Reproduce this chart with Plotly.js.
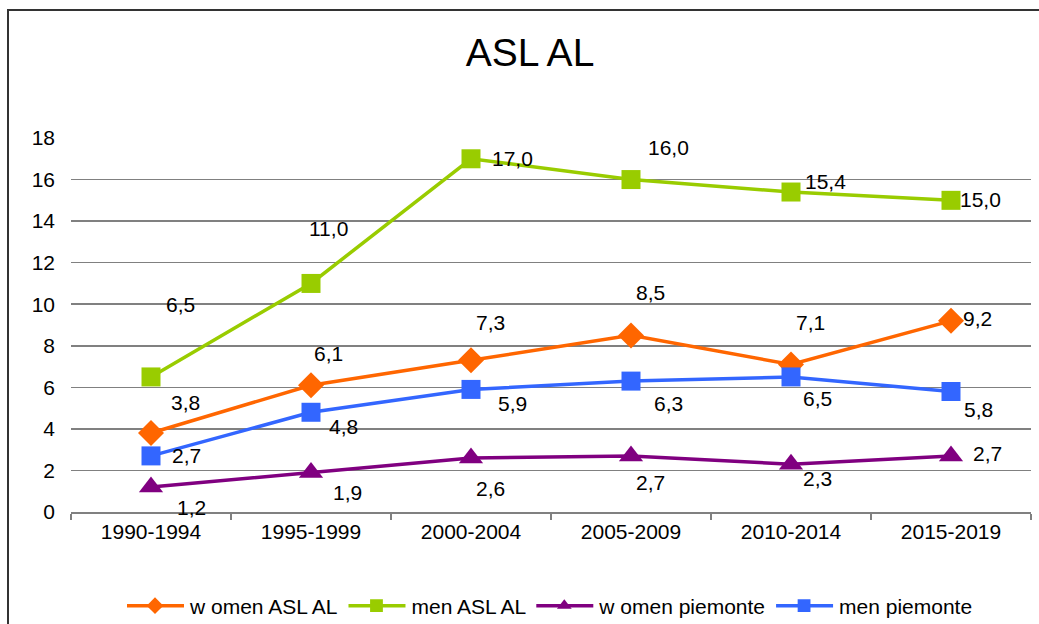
<!DOCTYPE html>
<html>
<head>
<meta charset="utf-8">
<script src="https://cdn.plot.ly/plotly-3.0.1.min.js"></script>
<style>
html,body{margin:0;padding:0;background:#fff;overflow:hidden;}
#chart{width:1039px;height:624px;position:relative;}
#frame{position:absolute;left:7px;top:9px;width:1100px;height:700px;border:2px solid #333;pointer-events:none;z-index:10;}
</style>
</head>
<body>
<div id="chart"></div>
<div id="frame"></div>
<script>
const categories = ["1990-1994","1995-1999","2000-2004","2005-2009","2010-2014","2015-2019"];
const womenASL = [3.8, 6.1, 7.3, 8.5, 7.1, 9.2];
const menASL = [6.5, 11.0, 17.0, 16.0, 15.4, 15.0];
const womenPiemonte = [1.2, 1.9, 2.6, 2.7, 2.3, 2.7];
const menPiemonte = [2.7, 4.8, 5.9, 6.3, 6.5, 5.8];
const seriesNames = ["w omen ASL AL", "men ASL AL", "w omen piemonte", "men piemonte"];

// label offsets in px (dx right, dy down) – styling only
const labelOffsets = [
  [[34,-31],[17,-32],[19,-38],[19,-43],[19,-42],[26,-2]],
  [[29,-72],[17,-55],[41,0],[37,-32],[34,-11],[29,-1]],
  [[40,20],[36,20],[19,31],[19,27],[26,14],[36,-2]],
  [[35,0],[32,14],[41,14],[37,22],[26,22],[27,18]]
];

const allSeries = [womenASL, menASL, womenPiemonte, menPiemonte];
const colors = ["#FF6600", "#99CC00", "#800080", "#3366FF"];
const symbols = ["diamond", "square", "triangle-up", "square"];
const sizes = [20, 19, 21, 19];
const FONT = "Liberation Sans, Arial, sans-serif";

const traces = allSeries.map((vals, i) => ({
  type: "scatter",
  mode: "lines+markers",
  name: seriesNames[i],
  x: categories,
  y: vals,
  line: {color: colors[i], width: 3.5},
  marker: {color: colors[i], symbol: symbols[i], size: sizes[i]},
  cliponaxis: false
}));

const fmt = v => v.toFixed(1).replace(".", ",");
const annotations = [];
allSeries.forEach((vals, i) => {
  vals.forEach((v, j) => {
    annotations.push({
      x: categories[j], y: v, xref: "x", yref: "y",
      text: fmt(v), showarrow: false,
      xshift: labelOffsets[i][j][0], yshift: -labelOffsets[i][j][1],
      font: {family: FONT, size: 21, color: "#000"}
    });
  });
});

const layout = {
  width: 1039, height: 624,
  margin: {l: 71, r: 8, t: 138, b: 112},
  paper_bgcolor: "#fff", plot_bgcolor: "#fff",
  font: {family: FONT, size: 21, color: "#000"},
  title: {
    text: "ASL AL", x: 530/1039, xanchor: "center", y: 1 - 52/624, yanchor: "middle",
    xref: "container", yref: "container",
    font: {family: FONT, size: 39, color: "#000"}
  },
  xaxis: {
    type: "category", range: [-0.5, 5.5],
    showline: true, linecolor: "#808080", linewidth: 1.5,
    ticks: "outside", tickson: "boundaries", ticklen: 6, tickcolor: "#808080", tickwidth: 1.5,
    showgrid: false, zeroline: false,
    tickfont: {size: 21}
  },
  yaxis: {
    range: [0, 18], dtick: 2, tick0: 0,
    showline: false, ticks: "", showgrid: true, gridcolor: "#808080", gridwidth: 1.5,
    zeroline: false, ticklabelstandoff: 15,
    tickfont: {size: 21}
  },
  showlegend: true,
  legend: {
    orientation: "h", xref: "container", yref: "container",
    x: 550/1039, xanchor: "center", y: 1 - 606/624, yanchor: "middle",
    font: {size: 21}, itemwidth: 58, tracegroupgap: 0
  },
  annotations: annotations
};

Plotly.newPlot("chart", traces, layout, {displayModeBar: false, staticPlot: true}).then(() => {
  // lengthen legend line symbols to resemble the original legend keys
  document.querySelectorAll(".legend .legendlines path").forEach(p => p.setAttribute("d", "M5,0h57"));
  document.querySelectorAll(".legend .legendpoints path").forEach(p => p.setAttribute("transform", "translate(33,0) scale(0.8)"));
});
</script>
</body>
</html>
